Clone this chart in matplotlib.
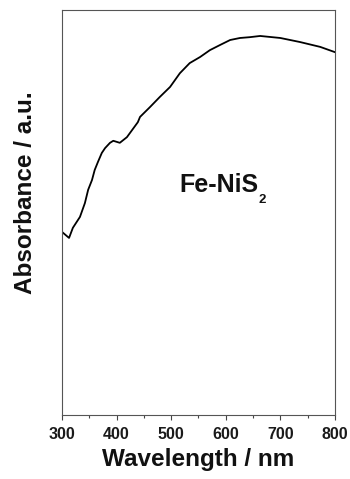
import matplotlib
matplotlib.use('Agg')
import matplotlib.pyplot as plt
import numpy as np

# UV-vis spectrum of Fe-NiS2 (arbitrary units)
wavelength = [300, 313, 320, 333, 342, 348, 355, 360, 366, 373, 379, 388,
              394, 406, 419, 439, 443, 461, 479, 498, 516, 534, 553, 571,
              590, 608, 626, 644, 663, 700, 736, 773, 800]
absorbance = [0.452, 0.437, 0.462, 0.489, 0.523, 0.556, 0.580, 0.605, 0.625,
              0.647, 0.659, 0.672, 0.677, 0.672, 0.686, 0.723, 0.736, 0.760,
              0.785, 0.810, 0.844, 0.869, 0.884, 0.901, 0.914, 0.926, 0.931,
              0.933, 0.936, 0.931, 0.921, 0.909, 0.896]

plt.rcParams['font.family'] = ['Liberation Sans', 'DejaVu Sans']

fig = plt.figure(figsize=(3.5, 4.79), dpi=100)
ax = fig.add_axes([0.177, 0.134, 0.78, 0.845])

ax.plot(wavelength, absorbance, color='black', linewidth=1.3)

ax.set_xlim(300, 800)
ax.set_ylim(0, 1)
ax.set_xticks([300, 400, 500, 600, 700, 800])
ax.set_xticks(np.arange(350, 800, 100), minor=True)
ax.set_yticks([])
ax.tick_params(axis='x', which='major', length=3.5, width=0.8, labelsize=11.5, pad=5, colors='#444444')
ax.tick_params(axis='x', which='minor', length=2, width=0.8, colors='#444444')
for lbl in ax.get_xticklabels():
    lbl.set_fontweight('bold')
    lbl.set_color('#1a1a1a')
for sp in ax.spines.values():
    sp.set_color('#555555')
    sp.set_linewidth(0.8)

ax.set_xlabel('Wavelength / nm', fontsize=17.5, fontweight='bold', color='#111111')
ax.set_ylabel('Absorbance / a.u.', fontsize=17.5, fontweight='bold', color='#111111')
ax.xaxis.set_label_coords(0.5, -0.083)
ax.yaxis.set_label_coords(-0.09, 0.55)

# sample name with a lowered subscript
name = ax.text(0.4286, 0.5506, 'Fe-NiS', transform=ax.transAxes, ha='left', va='baseline',
               fontsize=18, fontweight='bold', color='#111111')
ax.annotate('2', xy=(1, 0), xycoords=name, xytext=(0.5, -4), textcoords='offset points',
            ha='left', va='baseline', fontsize=9.5, fontweight='bold', color='#111111')

fig.savefig('out.png', dpi=100)
